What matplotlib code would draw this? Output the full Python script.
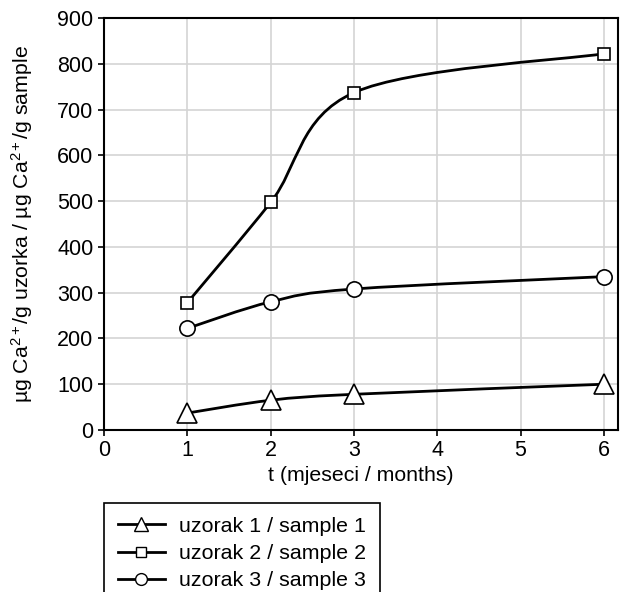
import numpy as np
import matplotlib
matplotlib.use("Agg")
import matplotlib.pyplot as plt
from matplotlib.path import Path
from matplotlib.patches import PathPatch
from matplotlib.lines import Line2D

# Data
months = [1, 2, 3, 6]
sample1 = [37, 65, 78, 100]
sample2 = [278, 497, 737, 822]
sample3 = [222, 280, 308, 335]

labels = ["uzorak 1 / sample 1", "uzorak 2 / sample 2", "uzorak 3 / sample 3"]
markers = ["^", "s", "o"]
msizes = [14, 8.7, 11]
leg_msizes = [10, 6.5, 8.5]

plt.rcParams["font.family"] = ["Liberation Sans", "DejaVu Sans"]
plt.rcParams["mathtext.fontset"] = "custom"
plt.rcParams["mathtext.rm"] = "Liberation Sans"
plt.rcParams["mathtext.it"] = "Liberation Sans"


def smooth_path(x, y):
    # Catmull-Rom style smoothing (like spreadsheet "smoothed line"), as cubic Bezier
    pts = np.column_stack([x, y]).astype(float)
    n = len(pts)
    verts = [pts[0]]
    codes = [Path.MOVETO]
    for i in range(n - 1):
        p0 = pts[i - 1] if i > 0 else pts[i]
        p1 = pts[i]
        p2 = pts[i + 1]
        p3 = pts[i + 2] if i + 2 < n else pts[i + 1]
        c1 = p1 + (p2 - p0) / 6.0
        c2 = p2 - (p3 - p1) / 6.0
        verts += [c1, c2, p2]
        codes += [Path.CURVE4] * 3
    return Path(verts, codes)


fig = plt.figure(figsize=(6.27, 5.92), dpi=100)
ax = fig.add_axes([104 / 627, 1 - 430 / 592, 514 / 627, 412 / 592])

for series, m, ms in zip([sample1, sample2, sample3], markers, msizes):
    patch = PathPatch(smooth_path(months, series), facecolor="none",
                      edgecolor="black", lw=2, zorder=3)
    ax.add_patch(patch)
    ax.plot(months, series, linestyle="none", marker=m, markersize=ms,
            markerfacecolor="white", markeredgecolor="black",
            markeredgewidth=1.2, zorder=4, clip_on=False)

ax.set_xlim(0, 6.17)
ax.set_ylim(0, 900)
ax.set_xticks(range(0, 7))
ax.set_yticks(range(0, 901, 100))
ax.grid(True, color="#d4d4d4", lw=1.2)
ax.set_axisbelow(True)
for s in ax.spines.values():
    s.set_linewidth(1.5)
ax.tick_params(labelsize=15.5, length=4, width=1.2)

ax.set_xlabel("t (mjeseci / months)", fontsize=15.3, labelpad=3)
ax.set_ylabel("\u00b5g Ca$^{2+}$/g uzorka / \u00b5g Ca$^{2+}$/g sample",
              fontsize=15.3, labelpad=16)

handles = [Line2D([0], [0], color="black", lw=2, marker=m, markersize=ms,
                  markerfacecolor="white", markeredgecolor="black")
           for m, ms in zip(markers, leg_msizes)]
leg = fig.legend(handles, labels, loc="upper left",
                 bbox_to_anchor=(104 / 627, 1 - 503 / 592),
                 fontsize=15.4, frameon=True, fancybox=False, framealpha=1,
                 edgecolor="black", handlelength=2.2, handletextpad=0.65,
                 labelspacing=0.38, borderpad=0.65, borderaxespad=0)
leg.get_frame().set_linewidth(1.2)

fig.savefig("out.png", dpi=100)
